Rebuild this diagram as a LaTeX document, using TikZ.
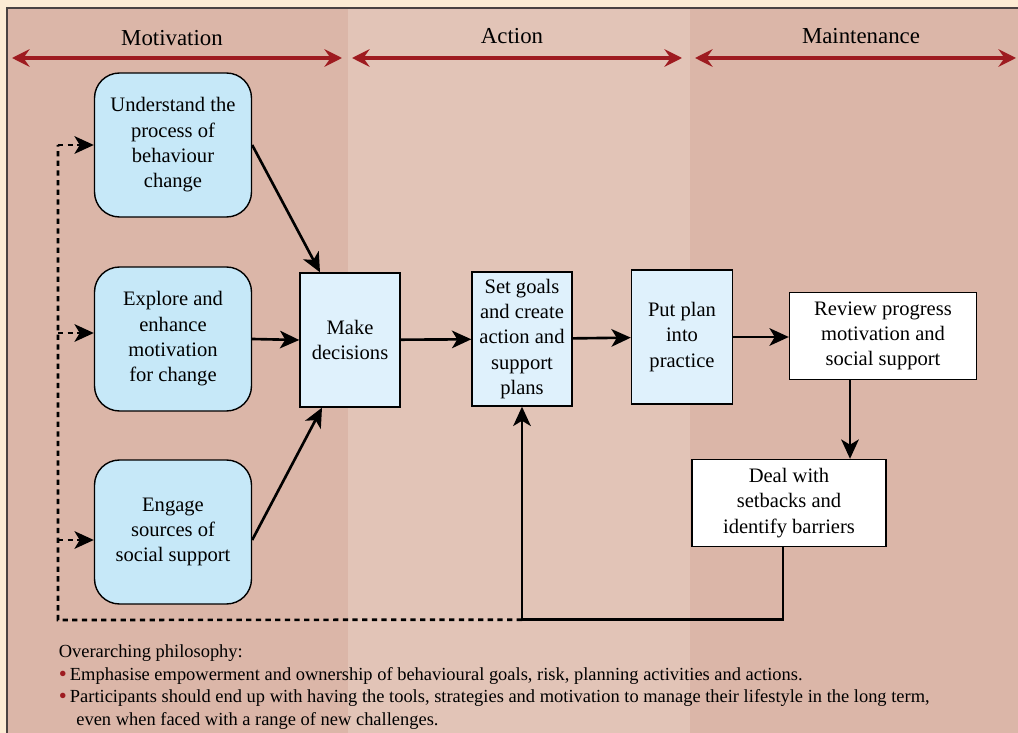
\documentclass[tikz,border=0pt]{standalone}
\usepackage{fontspec}
\setmainfont{Liberation Serif}
\usetikzlibrary{arrows.meta,positioning}

\definecolor{cream}{HTML}{FCEBD4}
\definecolor{paneldark}{HTML}{DBB6A8}
\definecolor{panellight}{HTML}{E2C4B7}
\definecolor{softblue}{HTML}{C6E8F8}
\definecolor{paleblue}{HTML}{DFF1FC}
\definecolor{phasered}{HTML}{9E1B20}
\definecolor{framegray}{HTML}{4A4242}

\newcommand{\RedDot}{\textcolor{phasered}{\smash{\raisebox{-0.15ex}{\fontsize{13}{13}\selectfont\textbullet}}}\,}

\tikzset{every node/.style={font=\fontsize{11.7}{14.4}\selectfont, align=center, inner sep=2pt}}
\tikzset{Motive/.style={draw,black,fill=softblue,rounded corners=0.5cm,minimum width=3.14cm,minimum height=2.88cm,line width=0.8pt}}
\tikzset{Stage/.style={draw,black,fill=paleblue,minimum width=2cm,minimum height=2.68cm,line width=0.8pt}}
\tikzset{Keep/.style={draw,black,fill=white,minimum height=1.74cm,line width=0.8pt}}
\tikzset{tip/.style={-{Stealth[length=11pt,width=10pt,inset=3pt]}}}
\tikzset{flow/.style={tip,line width=1.5pt}}
\tikzset{dashline/.style={line width=1.5pt,dash pattern=on 3pt off 2.5pt}}
\tikzset{phase/.style={{Stealth[length=10pt,width=10pt,inset=3.5pt]}-{Stealth[length=10pt,width=10pt,inset=3.5pt]},phasered,line width=2pt}}
\tikzset{Phase/.style={font=\fontsize{13}{15}\selectfont}}

\begin{document}
\begin{tikzpicture}[x=0.02cm,y=-0.02cm]
\useasboundingbox (0,0) rectangle (1018,733);

% background and phase panels
\fill[cream] (0,0) rectangle (1018,733);
\fill[paneldark] (7,8) rectangle (348,733);
\fill[panellight] (348,8) rectangle (690,733);
\fill[paneldark] (690,8) rectangle (1018,733);
\draw[framegray,line width=0.9pt] (7,733) -- (7,8) -- (1018,8);

% phases
\coordinate (m1) at (12,58);  \coordinate (m2) at (342,58);
\coordinate (a1) at (352,58); \coordinate (a2) at (682,58);
\coordinate (k1) at (695,58); \coordinate (k2) at (1016,58);
\draw[phase] (m1) -- (m2);
\draw[phase] (a1) -- (a2);
\draw[phase] (k1) -- (k2);
\node[Phase] (Mot) at (172,38) {Motivation};
\node[Phase] (Act) at (512,36) {Action};
\node[Phase] (Mai) at (861,36) {Maintenance};

% motivation boxes
\node[Motive] (U) at (173,145) {Understand the\\process of\\behaviour\\change};
\node[Motive] (E) at (173,339) {Explore and\\enhance\\motivation\\for change};
\node[Motive] (G) at (173,532) {Engage\\sources of\\social support};

% chain of stages
\node[Stage] (D) at (350,340) {Make\\decisions};
\node[Stage] (S) at (522,339) {Set goals\\and create\\action and\\support\\plans};
\node[Stage,minimum width=2.02cm] (P) at (682,337) {Put plan\\into\\practice};
\node[Keep,minimum width=3.74cm] (R) at (883,336) {Review progress\\motivation and\\social support};
\node[Keep,minimum width=3.88cm] (B) at (789,503) {Deal with\\setbacks and\\identify barriers};

\draw[flow] (U.east) -- ([xshift=-0.6cm]D.north);
\draw[flow] (E.east) -- (D.west);
\draw[flow] ([yshift=-0.16cm]G.east) -- ([xshift=-0.56cm]D.south);
\draw[flow] (D) -- (S);
\draw[flow] (S) -- (P);
\draw[flow] (P.east) -- (P.east -| R.west);
\draw[flow] ([xshift=-0.66cm]R.south) -- ([xshift=-0.66cm]R.south |- B.north);

% loop back
\path (S.south) ++(0,213) coordinate (bend);
\coordinate (dl) at (58,620);
\draw[flow] ([xshift=-0.12cm]B.south) |- (bend) -- (S.south);
\draw[dashline] (bend) -- (dl) -- (dl |- U.west);
\draw[dashline,tip] (dl |- U.west) -- (U.west);
\draw[dashline,tip] ([yshift=0.12cm]dl |- E.west) -- ([yshift=0.12cm]E.west);
\draw[dashline,tip] ([yshift=-0.16cm]dl |- G.west) -- ([yshift=-0.16cm]G.west);

% philosophy
\node[anchor=north west,align=left,font=\fontsize{10.5}{12.8}\selectfont] (Phil) at (55,641)
{Overarching philosophy:\\
\RedDot Emphasise empowerment and ownership of behavioural goals, risk, planning activities and actions.\\
\RedDot Participants should end up with having the tools, strategies and motivation to manage their lifestyle in the long term,\\
\hspace{0.95em}even when faced with a range of new challenges.};
\end{tikzpicture}
\end{document}
